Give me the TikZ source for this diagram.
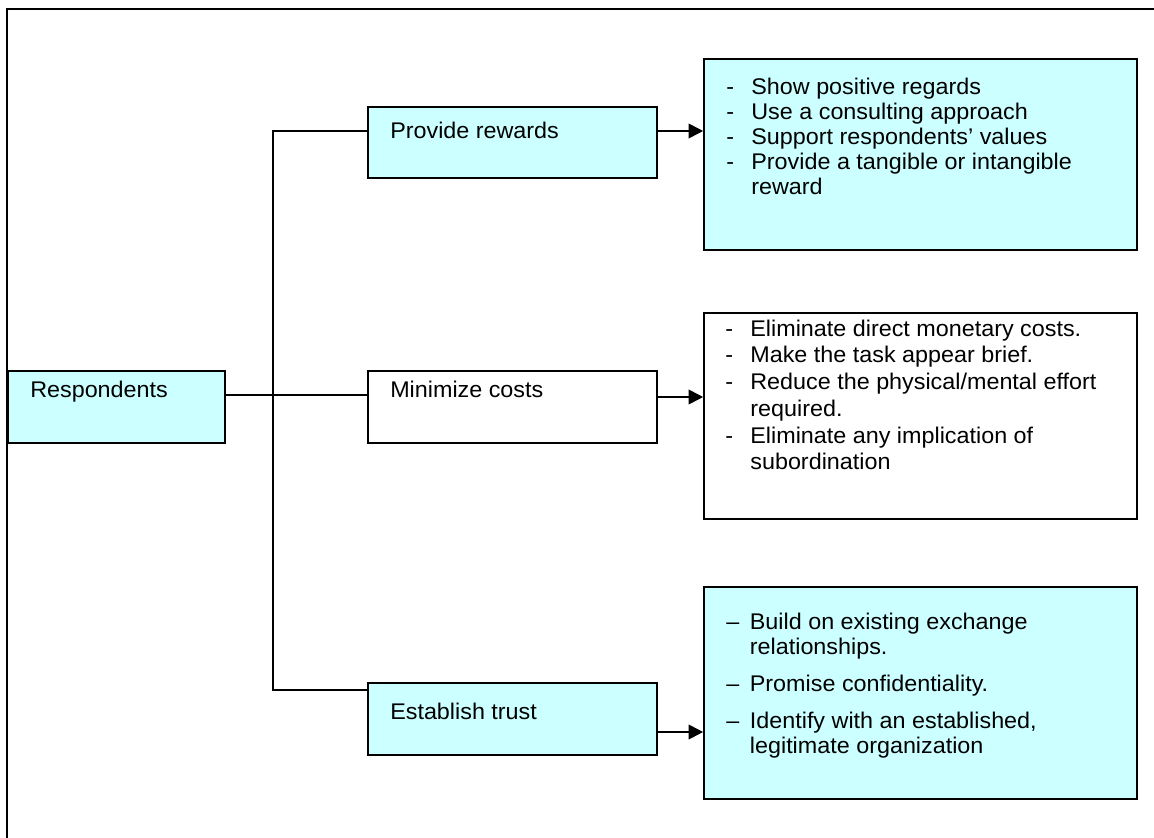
\documentclass[tikz,border=0pt]{standalone}
\usepackage{fontspec}
\setmainfont{Liberation Sans}[FakeStretch=1.03]
\usetikzlibrary{arrows.meta,fit}
\definecolor{lcyan}{HTML}{CCFFFF}
\begin{document}
\begin{tikzpicture}[x=0.75pt,y=-0.75pt,
  box/.style={draw=black,line width=1.2pt,rectangle,inner sep=0pt},
  cbox/.style={box,fill=lcyan},
  wbox/.style={box,fill=white},
  lbl/.style={anchor=base west,inner sep=0pt,font=\fontsize{17}{19}\selectfont},
  lst/.style={anchor=base west,inner sep=0pt},
  frame/.style={line width=2.2pt},
  conn/.style={line width=1.4pt},
  arr/.style={conn,-{Triangle[length=11pt,width=11pt]}}]
\useasboundingbox (0,0) rectangle (1154,838);
% outer frame
\draw[frame] (6,9) -- (1154,9);
\draw[frame] (7,9) -- (7,838);
% boxes
\node[cbox,fit={(8,371) (225,443)}] (resp) {};
\node[cbox,fit={(368,107) (657,178)}] (pr) {};
\node[wbox,fit={(368,371) (657,443)}] (mc) {};
\node[cbox,fit={(368,683) (657,755)}] (et) {};
\node[cbox,fit={(704,59) (1137,250)}] (l1) {};
\node[wbox,fit={(704,313) (1137,519)}] (l2) {};
\node[cbox,fit={(704,587) (1137,799)}] (l3) {};
% labels
\node[lbl] (resp-t) at (30,397) {Respondents};
\node[lbl] (pr-t) at (390,139) {Provide rewards};
\node[lbl] (mc-t) at (390,397) {Minimize costs};
\node[lbl] (et-t) at (390,719) {Establish trust};
% lists
\node[lst,font=\fontsize{17}{18.75}\selectfont] (l1-t) at (726,95)
 {\begin{tabular}[t]{@{}l@{\hspace{13pt}}l@{}}
  -&Show positive regards\\
  -&Use a consulting approach\\
  -&Support respondents’ values\\
  -&Provide a tangible or intangible\\
  &reward
 \end{tabular}};
\node[lst,font=\fontsize{17}{20.1}\selectfont] (l2-t) at (725,336)
 {\begin{tabular}[t]{@{}l@{\hspace{13pt}}l@{}}
  -&Eliminate direct monetary costs.\\
  -&Make the task appear brief.\\
  -&Reduce the physical/mental effort\\
  &required.\\
  -&Eliminate any implication of\\
  &subordination
 \end{tabular}};
\node[lst,font=\fontsize{17}{18.75}\selectfont] (l3-t) at (726,629)
 {\begin{tabular}[t]{@{}l@{\hspace{8pt}}l@{}}
  –&Build on existing exchange\\
  &relationships.\\[9pt]
  –&Promise confidentiality.\\[9pt]
  –&Identify with an established,\\
  &legitimate organization
 \end{tabular}};
% connectors
\coordinate (jt) at (273,131);
\coordinate (jb) at (273,690);
\draw[conn] (pr.west |- jt) -- (jt) -- (jb) -- (et.west |- jb);
\draw[conn] (resp.east |- 0,395) -- (mc.west |- 0,395);
\draw[arr] (pr.east |- 0,131) -- (l1.west |- 0,131);
\draw[arr] (mc.east |- 0,397) -- (l2.west |- 0,397);
\draw[arr] (et.east |- 0,732) -- (l3.west |- 0,732);
\end{tikzpicture}
\end{document}
